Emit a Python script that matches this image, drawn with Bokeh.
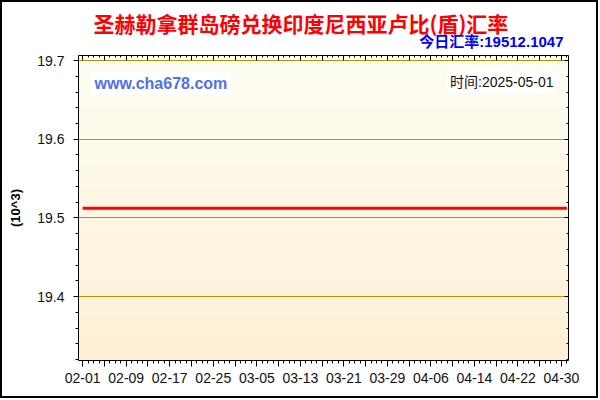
import numpy as np
import pandas as pd
from bokeh.plotting import figure
from bokeh.models import (FixedTicker, LinearAxis, Range1d, Label, Title,
                          CustomLabelingPolicy)
from bokeh.embed import file_html
from bokeh.resources import INLINE

# ---------------- data ----------------
title_text = "圣赫勒拿群岛磅兑换印度尼西亚卢比(盾)汇率"
rate_text = "今日汇率:19512.1047"
site_text = "www.cha678.com"
date_text = "时间:2025-05-01"
y_label = "(10^3)"

dates = ["2025-02-01", "2025-05-01"]
rates = [19512.1047, 19512.1047]
y_ticks = [19.4, 19.5, 19.6, 19.7]
x_tick_labels = ["02-01", "02-09", "02-17", "02-25", "03-05", "03-13",
                 "03-21", "03-29", "04-06", "04-14", "04-22", "04-30"]

# ---------------- derived ----------------
x_ms = [int(pd.Timestamp(d).value // 10**6) for d in dates]
y = [r / 1000.0 for r in rates]

day = 86400000
label_ms = [int(pd.Timestamp("2025-" + s).value // 10**6) for s in x_tick_labels]
first, last = label_ms[0], label_ms[-1]
major = list(range(first, last + 1, 4 * day))
minor = list(range(first - day, last + 2 * day, day))
overrides = {float(t): s for t, s in zip(label_ms, x_tick_labels)}

x_start = first - 0.77 * day
x_end = last + 1.29 * day
y_start, y_end = 19.3187, 19.7064
y_minor = list(np.round(np.arange(19.32, 19.7001, 0.02), 2))

FONT = "Liberation Sans"
MIXED = "'Liberation Sans', 'Noto Sans CJK SC'"

hide_all = CustomLabelingPolicy(code="""
const n = indices.size;
for (let i = 0; i < n; i++) { indices.unset(i); }
return indices;
""")
keep_even = CustomLabelingPolicy(code="""
const n = indices.size;
for (let i = 0; i < n; i++) { if (i % 2 == 1) { indices.unset(i); } }
return indices;
""")

p = figure(width=598, height=398, output_backend="svg",
           toolbar_location=None, title=None,
           x_range=Range1d(x_start, x_end), y_range=Range1d(y_start, y_end),
           min_border_left=76, min_border_right=32, min_border_top=53,
           min_border_bottom=40, background_fill_color="#FFFBEA",
           border_fill_color="white", outline_line_color=None,
           styles={"border": "2px solid black"})

# gradient background of the plot area
n = 64
top_c = np.array([255, 254, 244], dtype=float)
bot_c = np.array([253, 240, 214], dtype=float)
t = np.linspace(0, 1, n)[:, None]
cols = bot_c + (top_c - bot_c) * t
img = np.empty((n, 1), dtype=np.uint32)
view = img.view(dtype=np.uint8).reshape((n, 1, 4))
view[:, 0, 0] = cols[:, 0]
view[:, 0, 1] = cols[:, 1]
view[:, 0, 2] = cols[:, 2]
view[:, 0, 3] = 255
p.image_rgba(image=[img], x=x_start, y=y_start, dw=x_end - x_start,
             dh=y_end - y_start, level="image")

p.line(x_ms, y, line_color="#FF0000", line_width=3)

# grid
p.xgrid.visible = False
p.ygrid.grid_line_color = "#C09000"
p.ygrid.grid_line_width = 1

# bottom axis
xa = p.xaxis[0]
xa.ticker = FixedTicker(ticks=major, minor_ticks=minor)
xa.major_label_overrides = overrides
xa.major_label_policy = keep_even
xa.major_tick_in = 0
xa.major_tick_out = 6
xa.minor_tick_in = 0
xa.minor_tick_out = 3
xa.axis_line_color = "black"
xa.major_tick_line_color = "black"
xa.minor_tick_line_color = "black"
xa.major_label_text_font = FONT
xa.major_label_text_font_size = "14px"
xa.major_label_text_color = "#111111"
xa.major_label_standoff = 6

# left axis
ya = p.yaxis[0]
ya.ticker = FixedTicker(ticks=y_ticks, minor_ticks=y_minor)
ya.major_tick_in = 0
ya.major_tick_out = 5
ya.minor_tick_in = 0
ya.minor_tick_out = 3
ya.axis_line_color = "black"
ya.major_tick_line_color = "black"
ya.minor_tick_line_color = "black"
ya.major_label_text_font = FONT
ya.major_label_text_font_size = "14px"
ya.major_label_text_color = "#111111"
ya.major_label_standoff = 9
ya.axis_label = y_label
ya.axis_label_text_font = FONT
ya.axis_label_text_font_style = "bold"
ya.axis_label_text_font_size = "13px"
ya.axis_label_text_color = "black"
ya.axis_label_standoff = 11

# top axis (ticks inside, no labels)
ta = LinearAxis(ticker=FixedTicker(ticks=major, minor_ticks=minor),
                major_tick_in=5, major_tick_out=0, minor_tick_in=2, minor_tick_out=0,
                major_label_policy=hide_all, major_label_standoff=0,
                major_label_text_font_size="1px",
                axis_line_color="black", major_tick_line_color="black",
                minor_tick_line_color="black")
p.add_layout(ta, "above")

# right axis (ticks inside, no labels)
ra = LinearAxis(ticker=FixedTicker(ticks=y_ticks, minor_ticks=y_minor),
                major_tick_in=4, major_tick_out=0, minor_tick_in=2, minor_tick_out=0,
                major_label_policy=hide_all, major_label_standoff=0,
                major_label_text_font_size="1px",
                axis_line_color="black", major_tick_line_color="black",
                minor_tick_line_color="black")
p.add_layout(ra, "right")

# titles (added after the top axis so they stack above it)
p.add_layout(Title(text=rate_text, align="right", offset=5, standoff=4,
                   text_font=MIXED, text_font_style="bold",
                   text_font_size="15px", text_color="#0000FF"), "above")
p.add_layout(Title(text=title_text, align="left", offset=15, standoff=-18,
                   text_font="Noto Sans CJK SC", text_font_style="bold",
                   text_font_size="21px", text_color="#FF0000"), "above")

# texts inside the plot area
p.add_layout(Label(x=13, y=277, x_units="screen", y_units="screen", text=site_text,
                   text_align="left", text_baseline="middle",
                   text_font=FONT, text_font_style="bold",
                   text_font_size="16px", text_color="#4F6FF0",
                   background_fill_color="white", padding=3))
p.add_layout(Label(x=478, y=279, x_units="screen", y_units="screen", text=date_text,
                   text_align="right", text_baseline="middle",
                   text_font=MIXED,
                   text_font_size="14px", text_color="#111111",
                   background_fill_color="white", padding=3))

open("out.html", "w").write(file_html(p, INLINE))
